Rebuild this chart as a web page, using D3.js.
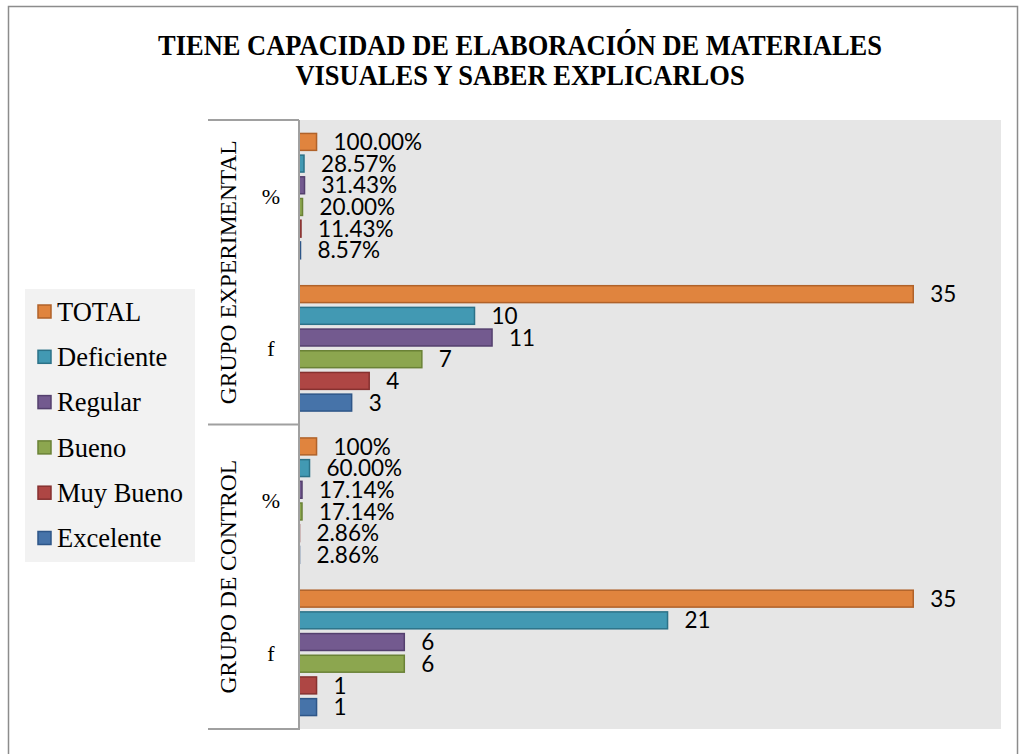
<!DOCTYPE html>
<html>
<head>
<meta charset="utf-8">
<script src="https://cdn.jsdelivr.net/npm/d3@7"></script>
<style>
  html, body { margin: 0; padding: 0; background: #ffffff; }
  svg { display: block; }
</style>
</head>
<body>
<svg id="chart" width="1023" height="754"></svg>
<script>
// ---- data ----
const titleLines = ["TIENE CAPACIDAD DE ELABORACIÓN DE MATERIALES", "VISUALES Y SABER EXPLICARLOS"];
const series = ["TOTAL", "Deficiente", "Regular", "Bueno", "Muy Bueno", "Excelente"];
const seriesColors = ["#e0843e", "#4299b3", "#735a8f", "#8ca64f", "#ae4644", "#4673a9"];
const seriesBorders = ["#b0622a", "#2c7288", "#54406e", "#6a8236", "#863130", "#2e5688"];
const groups = ["GRUPO EXPERIMENTAL", "GRUPO DE CONTROL"];
const subCategories = ["%", "f"];
// rows: group / sub-category, values per series (TOTAL ... Excelente)
const expPct = [1.0, 0.2857, 0.3143, 0.20, 0.1143, 0.0857];
const expPctLabels = ["100.00%", "28.57%", "31.43%", "20.00%", "11.43%", "8.57%"];
const expF = [35, 10, 11, 7, 4, 3];
const ctrlPct = [1.0, 0.60, 0.1714, 0.1714, 0.0286, 0.0286];
const ctrlPctLabels = ["100%", "60.00%", "17.14%", "17.14%", "2.86%", "2.86%"];
const ctrlF = [35, 21, 6, 6, 1, 1];
const xMax = 40;

const rows = [
  { key: "GE%", group: 0, sub: "%", values: expPct, labels: expPctLabels },
  { key: "GEf", group: 0, sub: "f", values: expF, labels: expF.map(String) },
  { key: "GC%", group: 1, sub: "%", values: ctrlPct, labels: ctrlPctLabels },
  { key: "GCf", group: 1, sub: "f", values: ctrlF, labels: ctrlF.map(String) }
];

// ---- layout ----
const svg = d3.select("#chart");
const plot = { left: 299, right: 1001, top: 120, bottom: 729 };
const axisLeft = 208;

// outer border
svg.append("rect").attr("x", 8.5).attr("y", 6.5).attr("width", 1009).attr("height", 760)
  .attr("fill", "#ffffff").attr("stroke", "#8c8c8c").attr("stroke-width", 1.5);

// title (slightly tall lettering like the reference)
svg.append("g").selectAll("text").data(titleLines).join("text")
  .attr("transform", (d, i) => `translate(520,${55 + i * 30}) scale(1,1.12)`)
  .attr("text-anchor", "middle")
  .attr("font-family", "'Liberation Serif', 'Times New Roman', serif")
  .attr("font-weight", "bold").attr("font-size", 26.5)
  .attr("fill", "#000").text(d => d);

// scales
const x = d3.scaleLinear().domain([0, xMax]).range([plot.left, plot.right]);
const y = d3.scaleBand().domain(rows.map(r => r.key)).range([plot.top, plot.bottom]).padding(0);
const yInner = d3.scaleBand().domain(series).range([0, y.bandwidth()]).paddingInner(0.22).paddingOuter(0.62);

// plot background
svg.append("rect").attr("x", plot.left).attr("y", plot.top)
  .attr("width", plot.right - plot.left).attr("height", plot.bottom - plot.top)
  .attr("fill", "#e6e6e6");

// bars
const rowG = svg.append("g").selectAll("g").data(rows).join("g")
  .attr("transform", d => `translate(0,${y(d.key)})`);

rowG.selectAll("rect").data(d => d.values.map((v, i) => ({ v, i, label: d.labels[i] }))).join("rect")
  .attr("x", x(0))
  .attr("y", d => yInner(series[d.i]))
  .attr("width", d => Math.max(0, x(d.v) - x(0)))
  .attr("height", yInner.bandwidth())
  .attr("fill", d => seriesColors[d.i])
  .attr("stroke", d => seriesBorders[d.i])
  .attr("stroke-width", 1.5);

rowG.selectAll("text").data(d => d.values.map((v, i) => ({ v, i, label: d.labels[i] }))).join("text")
  .attr("x", d => x(d.v) + 17)
  .attr("y", d => yInner(series[d.i]) + yInner.bandwidth() / 2)
  .attr("dy", "0.36em")
  .attr("font-family", "Lato, 'Open Sans', sans-serif")
  .attr("font-size", 22.5)
  .attr("fill", "#000")
  .text(d => d.label);

// category axis (multi-level)
const axisG = svg.append("g").attr("stroke", "#a0a0a0").attr("stroke-width", 2);
axisG.append("line").attr("x1", plot.left).attr("x2", plot.left).attr("y1", plot.top).attr("y2", plot.bottom + 1);
const groupEdges = [plot.top, y("GC%"), plot.bottom];
axisG.selectAll("line.h").data(groupEdges).join("line").attr("class", "h")
  .attr("x1", axisLeft).attr("x2", plot.left).attr("y1", d => d).attr("y2", d => d);

// sub-category labels
svg.append("g").selectAll("text").data(rows).join("text")
  .attr("x", 271)
  .attr("y", d => y(d.key) + y.bandwidth() / 2)
  .attr("dy", "0.35em")
  .attr("text-anchor", "middle")
  .attr("font-family", "'Liberation Serif', 'Times New Roman', serif")
  .attr("font-size", 22)
  .attr("fill", "#000")
  .text(d => d.sub);

// group labels
svg.append("g").selectAll("text").data(groups).join("text")
  .attr("transform", (d, i) => {
    const cy = (groupEdges[i] + groupEdges[i + 1]) / 2;
    return `translate(228,${cy}) rotate(-90)`;
  })
  .attr("dy", "0.35em")
  .attr("text-anchor", "middle")
  .attr("font-family", "'Liberation Serif', 'Times New Roman', serif")
  .attr("font-size", 23.5)
  .attr("fill", "#000")
  .text(d => d);

// legend
const legend = svg.append("g");
legend.append("rect").attr("x", 25).attr("y", 289).attr("width", 170).attr("height", 273).attr("fill", "#f2f2f2");
const lg = legend.selectAll("g").data(series).join("g")
  .attr("transform", (d, i) => `translate(0,${311.5 + i * 45.3})`);
lg.append("rect").attr("x", 38).attr("y", -6.5).attr("width", 13).attr("height", 13)
  .attr("fill", (d, i) => seriesColors[i]).attr("stroke", (d, i) => seriesBorders[i]).attr("stroke-width", 1.5);
lg.append("text").attr("x", 57).attr("dy", "0.35em")
  .attr("font-family", "'Liberation Serif', 'Times New Roman', serif")
  .attr("font-size", 26.5).attr("fill", "#000").text(d => d);
</script>
</body>
</html>
